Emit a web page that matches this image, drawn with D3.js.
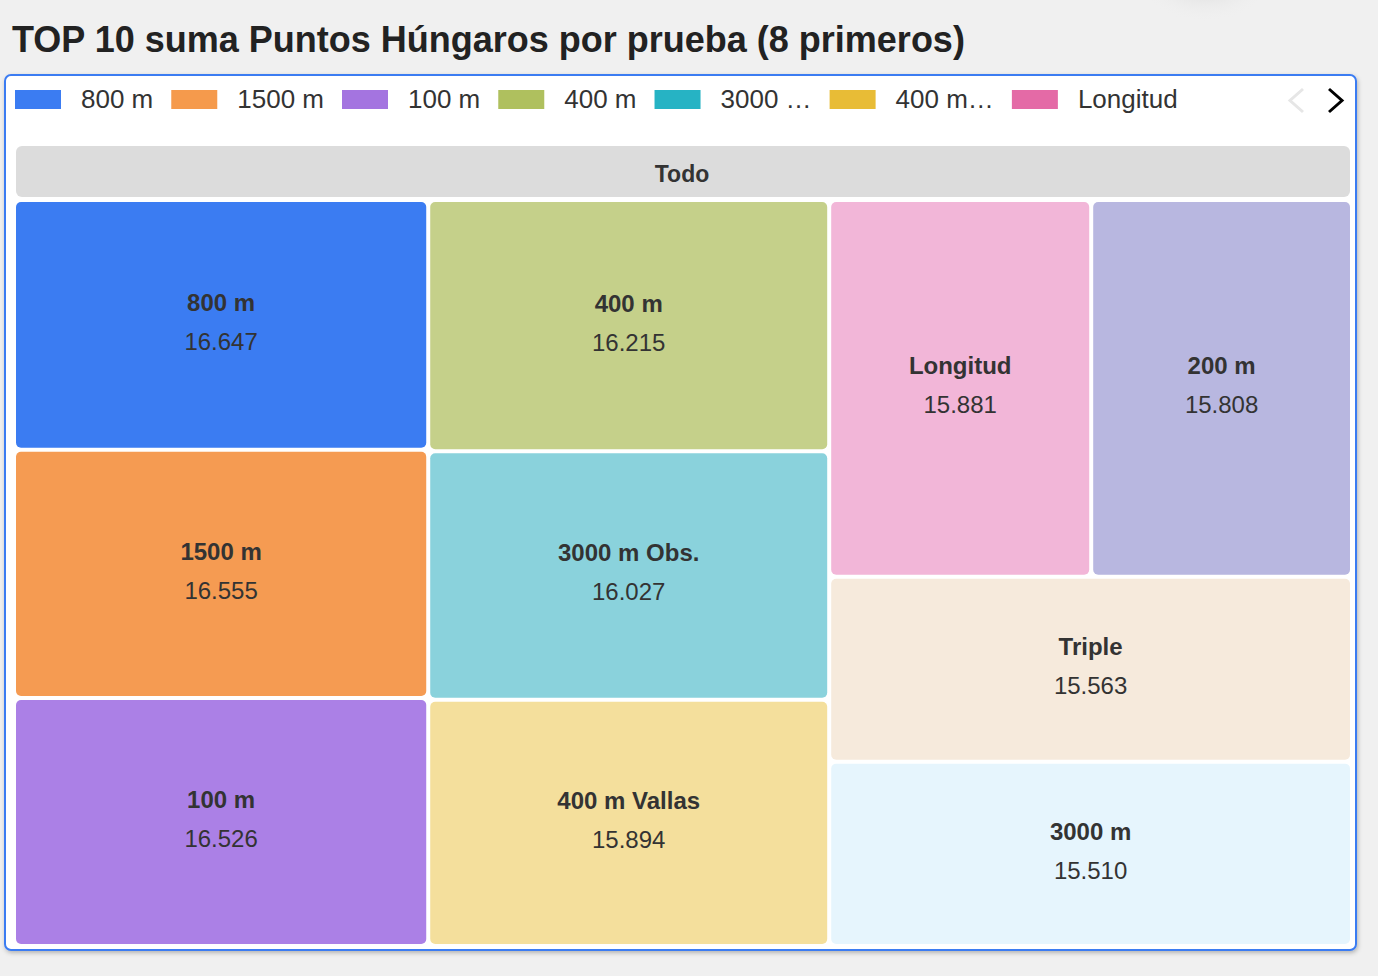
<!DOCTYPE html>
<html>
<head>
    <meta charset="utf-8" />
    <title>TOP 10 suma Puntos Húngaros por prueba</title>
    <script src="https://cdn.jsdelivr.net/npm/d3@7"></script>
    <style>
        html, body { margin: 0; padding: 0; background: #f0f0f0; }
        svg { display: block; font-family: "Liberation Sans", Arial, Helvetica, sans-serif; }
    </style>
</head>
<body>
    <svg id="chart" width="1378" height="976"></svg>
    <script>
        // data
        var categories = ["800 m", "1500 m", "100 m", "400 m", "3000 m Obs.", "400 m Vallas",
                          "Longitud", "200 m", "Triple", "3000 m"];
        var values = [16647, 16555, 16526, 16215, 16027, 15894, 15881, 15808, 15563, 15510];
        var tileColors = ["#3b7cf2", "#f59b52", "#ab80e6", "#c5d08a", "#8ad2dc", "#f4df9c",
                          "#f2b6d8", "#b8b7e0", "#f6eadc", "#e6f5fd"];
        // first page of the legend
        var legendNames = categories.slice(0, 7);
        var legendColors = ["#3b7cf2", "#f59a4c", "#a474e0", "#afc05e", "#26b3c4", "#e8bc36", "#e46aa6"];
        var rootName = "Todo";
        var title = "TOP 10 suma Puntos Húngaros por prueba (8 primeros)";

        var es = d3.formatLocale({ decimal: ",", thousands: ".", grouping: [3], currency: ["", " €"] });
        var fmt = es.format(",d");

        var svg = d3.select("#chart");
        var defs = svg.append("defs");

        var shadow = defs.append("filter").attr("id", "shadow")
            .attr("x", "-5%").attr("y", "-5%").attr("width", "110%").attr("height", "110%");
        shadow.append("feDropShadow").attr("dx", 1).attr("dy", 2).attr("stdDeviation", 2)
            .attr("flood-color", "#000").attr("flood-opacity", 0.25);

        var glow = defs.append("radialGradient").attr("id", "glow");
        glow.append("stop").attr("offset", "0%").attr("stop-color", "#c8c8c8");
        glow.append("stop").attr("offset", "100%").attr("stop-color", "#f0f0f0").attr("stop-opacity", 0);

        // soft shadow of something sitting above the page
        svg.append("ellipse").attr("cx", 1205).attr("cy", -28).attr("rx", 70).attr("ry", 50)
            .attr("fill", "url(#glow)");

        svg.append("text")
            .attr("x", 12).attr("y", 52)
            .attr("font-size", 36).attr("font-weight", "bold").attr("fill", "#222")
            .text(title);

        // card
        svg.append("rect")
            .attr("x", 5).attr("y", 75).attr("width", 1351).attr("height", 875).attr("rx", 6)
            .attr("fill", "#fff").attr("stroke", "#3b7cf2").attr("stroke-width", 2)
            .attr("filter", "url(#shadow)");

        // legend
        var maxLabel = 105;
        var legend = svg.append("g").attr("class", "legend");
        var lx = 15;
        legendNames.forEach(function (name, i) {
            var g = legend.append("g").attr("transform", "translate(" + lx + ",0)");
            g.append("rect").attr("x", 0).attr("y", 90).attr("width", 46).attr("height", 19)
                .attr("fill", legendColors[i]);
            var t = g.append("text").attr("x", 66).attr("y", 108)
                .attr("font-size", 26).attr("fill", "#333").text(name);
            var node = t.node();
            if (node.getComputedTextLength() > maxLabel) {
                var s = name;
                while (s.length > 0) {
                    s = s.slice(0, -1);
                    t.text(s + "…");
                    if (node.getComputedTextLength() <= maxLabel) break;
                }
            }
            lx += 66 + node.getComputedTextLength() + 18;
        });

        // page arrows
        svg.append("path").attr("d", "M1303,89 L1290,100.5 L1303,112")
            .attr("fill", "none").attr("stroke", "#e6e6e6").attr("stroke-width", 3);
        svg.append("path").attr("d", "M1329,89 L1342,100.5 L1329,112")
            .attr("fill", "none").attr("stroke", "#000").attr("stroke-width", 3);

        // treemap
        var area = { x: 16, y: 146, w: 1334, h: 798, header: 56 };

        var data = {
            name: rootName,
            children: categories.map(function (c, i) {
                return { name: c, value: values[i], color: tileColors[i] };
            })
        };

        var root = d3.hierarchy(data)
            .sum(function (d) { return d.value || 0; })
            .sort(function (a, b) { return b.value - a.value; });

        d3.treemap()
            .tile(d3.treemapSquarify)
            .size([area.w, area.h])
            .paddingTop(area.header)
            .paddingInner(4)
            (root);

        var plot = svg.append("g").attr("transform", "translate(" + area.x + "," + area.y + ")");

        plot.append("rect")
            .attr("x", root.x0).attr("y", root.y0)
            .attr("width", root.x1 - root.x0).attr("height", area.header - 5)
            .attr("rx", 6).attr("fill", "#dcdcdc");
        plot.append("text")
            .attr("x", (root.x0 + root.x1) / 2 - 1).attr("y", 36)
            .attr("text-anchor", "middle").attr("font-size", 23).attr("font-weight", "bold")
            .attr("fill", "#333").text(root.data.name);

        var cell = plot.selectAll("g.cell")
            .data(root.leaves())
            .enter().append("g")
            .attr("class", "cell")
            .attr("transform", function (d) { return "translate(" + d.x0 + "," + d.y0 + ")"; });

        cell.append("rect")
            .attr("width", function (d) { return d.x1 - d.x0; })
            .attr("height", function (d) { return d.y1 - d.y0; })
            .attr("rx", 5)
            .attr("fill", function (d) { return d.data.color; });

        cell.append("text")
            .attr("x", function (d) { return (d.x1 - d.x0) / 2; })
            .attr("y", function (d) { return (d.y1 - d.y0) / 2 - 14; })
            .attr("text-anchor", "middle").attr("font-size", 24).attr("font-weight", "bold")
            .attr("fill", "#333")
            .text(function (d) { return d.data.name; });

        cell.append("text")
            .attr("x", function (d) { return (d.x1 - d.x0) / 2; })
            .attr("y", function (d) { return (d.y1 - d.y0) / 2 + 25; })
            .attr("text-anchor", "middle").attr("font-size", 24)
            .attr("fill", "#333")
            .text(function (d) { return fmt(d.value); });
    </script>
</body>
</html>
